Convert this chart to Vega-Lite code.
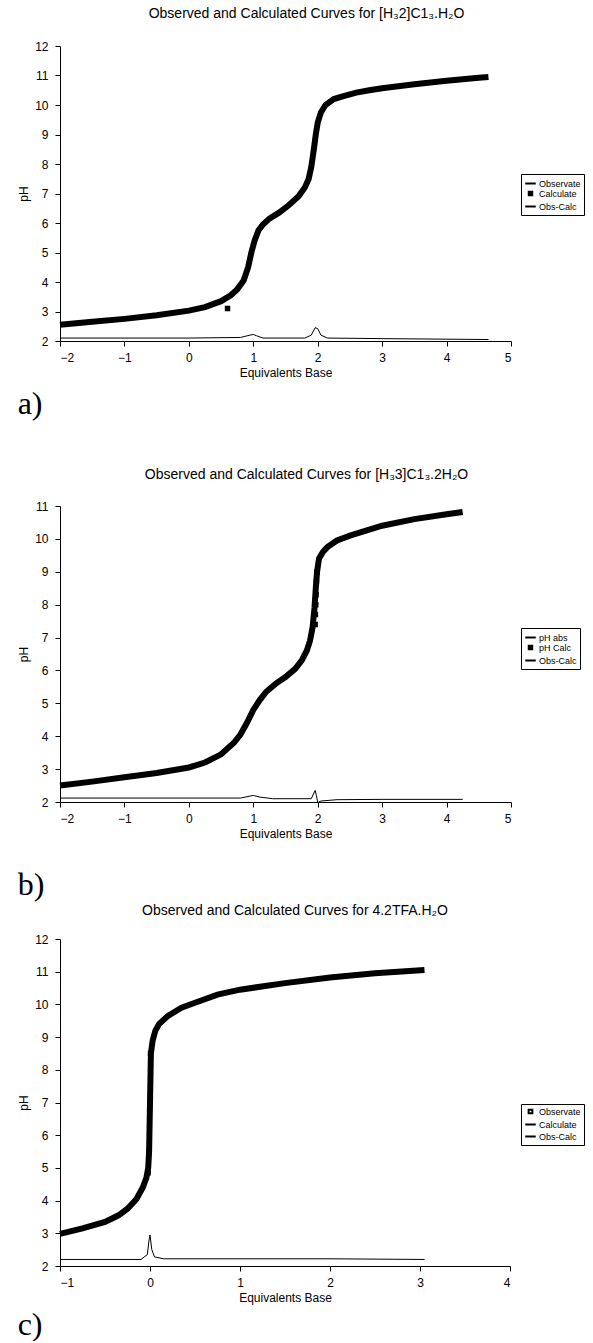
{
  "$schema": "https://vega.github.io/schema/vega-lite/v6.json",
  "padding": {"left": 17, "top": 7, "right": 0, "bottom": 0},
  "background": "white",
  "config": {
    "font": "Liberation Sans",
    "view": {"stroke": null},
    "axis": {"grid": false, "domainColor": "black", "tickColor": "black", "labelColor": "black", "titleColor": "black", "labelFontSize": 12, "titleFontSize": 12, "titleFontWeight": "normal", "tickSize": 5, "labelFont": "Liberation Sans", "titleFont": "Liberation Sans"},
    "title": {"font": "Liberation Sans", "fontSize": 14, "fontWeight": "normal", "color": "black"},
    "legend": {"labelFont": "Liberation Sans", "labelFontSize": 9, "labelColor": "black", "strokeColor": "black", "padding": 3, "rowPadding": -3, "symbolStrokeWidth": 2, "labelOffset": 2, "fillColor": "white"}
  },
  "datasets": {
    "a": [
      {"x": -2, "pH": 2.55, "series": "Observate"}, {"x": -1.5, "pH": 2.65, "series": "Observate"}, {"x": -1, "pH": 2.75, "series": "Observate"}, {"x": -0.5, "pH": 2.87, "series": "Observate"}, {"x": 0, "pH": 3.03, "series": "Observate"}, {"x": 0.25, "pH": 3.15, "series": "Observate"}, {"x": 0.5, "pH": 3.35, "series": "Observate"}, {"x": 0.65, "pH": 3.55, "series": "Observate"}, {"x": 0.75, "pH": 3.75, "series": "Observate"}, {"x": 0.85, "pH": 4.05, "series": "Observate"}, {"x": 0.92, "pH": 4.5, "series": "Observate"}, {"x": 0.97, "pH": 5.0, "series": "Observate"}, {"x": 1.02, "pH": 5.4, "series": "Observate"}, {"x": 1.08, "pH": 5.75, "series": "Observate"}, {"x": 1.15, "pH": 5.95, "series": "Observate"}, {"x": 1.25, "pH": 6.15, "series": "Observate"}, {"x": 1.4, "pH": 6.35, "series": "Observate"}, {"x": 1.55, "pH": 6.6, "series": "Observate"}, {"x": 1.7, "pH": 6.9, "series": "Observate"}, {"x": 1.8, "pH": 7.2, "series": "Observate"}, {"x": 1.86, "pH": 7.5, "series": "Observate"}, {"x": 1.9, "pH": 7.9, "series": "Observate"}, {"x": 1.94, "pH": 8.5, "series": "Observate"}, {"x": 1.97, "pH": 9.0, "series": "Observate"}, {"x": 2.0, "pH": 9.4, "series": "Observate"}, {"x": 2.05, "pH": 9.75, "series": "Observate"}, {"x": 2.12, "pH": 10.0, "series": "Observate"}, {"x": 2.25, "pH": 10.2, "series": "Observate"}, {"x": 2.4, "pH": 10.3, "series": "Observate"}, {"x": 2.6, "pH": 10.42, "series": "Observate"}, {"x": 2.8, "pH": 10.5, "series": "Observate"}, {"x": 3.0, "pH": 10.57, "series": "Observate"}, {"x": 3.5, "pH": 10.7, "series": "Observate"}, {"x": 4.0, "pH": 10.82, "series": "Observate"}, {"x": 4.5, "pH": 10.92, "series": "Observate"}, {"x": 4.65, "pH": 10.95, "series": "Observate"},
      {"x": 0.6, "pH": 3.1, "series": "Calculate"},
      {"x": -2, "pH": 2.1, "series": "Obs-Calc"}, {"x": 0, "pH": 2.1, "series": "Obs-Calc"}, {"x": 0.8, "pH": 2.12, "series": "Obs-Calc"}, {"x": 0.95, "pH": 2.2, "series": "Obs-Calc"}, {"x": 1.0, "pH": 2.22, "series": "Obs-Calc"}, {"x": 1.05, "pH": 2.18, "series": "Obs-Calc"}, {"x": 1.15, "pH": 2.1, "series": "Obs-Calc"}, {"x": 1.8, "pH": 2.1, "series": "Obs-Calc"}, {"x": 1.9, "pH": 2.2, "series": "Obs-Calc"}, {"x": 1.96, "pH": 2.45, "series": "Obs-Calc"}, {"x": 2.0, "pH": 2.42, "series": "Obs-Calc"}, {"x": 2.05, "pH": 2.2, "series": "Obs-Calc"}, {"x": 2.15, "pH": 2.1, "series": "Obs-Calc"}, {"x": 3.0, "pH": 2.08, "series": "Obs-Calc"}, {"x": 4.65, "pH": 2.05, "series": "Obs-Calc"}
    ],
    "b": [
      {"x": -2, "pH": 2.5, "series": "pH abs"}, {"x": -1.5, "pH": 2.62, "series": "pH abs"}, {"x": -1, "pH": 2.75, "series": "pH abs"}, {"x": -0.5, "pH": 2.88, "series": "pH abs"}, {"x": 0, "pH": 3.05, "series": "pH abs"}, {"x": 0.25, "pH": 3.2, "series": "pH abs"}, {"x": 0.5, "pH": 3.45, "series": "pH abs"}, {"x": 0.7, "pH": 3.8, "series": "pH abs"}, {"x": 0.8, "pH": 4.05, "series": "pH abs"}, {"x": 0.9, "pH": 4.4, "series": "pH abs"}, {"x": 1.0, "pH": 4.8, "series": "pH abs"}, {"x": 1.1, "pH": 5.1, "series": "pH abs"}, {"x": 1.2, "pH": 5.35, "series": "pH abs"}, {"x": 1.35, "pH": 5.6, "series": "pH abs"}, {"x": 1.5, "pH": 5.8, "series": "pH abs"}, {"x": 1.65, "pH": 6.05, "series": "pH abs"}, {"x": 1.75, "pH": 6.3, "series": "pH abs"}, {"x": 1.83, "pH": 6.6, "series": "pH abs"}, {"x": 1.88, "pH": 6.9, "series": "pH abs"}, {"x": 1.92, "pH": 7.3, "series": "pH abs"}, {"x": 1.95, "pH": 7.9, "series": "pH abs"}, {"x": 1.97, "pH": 8.5, "series": "pH abs"}, {"x": 1.99, "pH": 9.0, "series": "pH abs"}, {"x": 2.02, "pH": 9.4, "series": "pH abs"}, {"x": 2.08, "pH": 9.6, "series": "pH abs"}, {"x": 2.15, "pH": 9.75, "series": "pH abs"}, {"x": 2.3, "pH": 9.95, "series": "pH abs"}, {"x": 2.5, "pH": 10.1, "series": "pH abs"}, {"x": 2.75, "pH": 10.25, "series": "pH abs"}, {"x": 3.0, "pH": 10.4, "series": "pH abs"}, {"x": 3.5, "pH": 10.6, "series": "pH abs"}, {"x": 4.0, "pH": 10.75, "series": "pH abs"}, {"x": 4.25, "pH": 10.82, "series": "pH abs"},
      {"x": 1.96, "pH": 7.4, "series": "pH Calc"}, {"x": 1.965, "pH": 7.7, "series": "pH Calc"}, {"x": 1.97, "pH": 8.0, "series": "pH Calc"}, {"x": 1.975, "pH": 8.3, "series": "pH Calc"}, {"x": 1.98, "pH": 8.7, "series": "pH Calc"}, {"x": 1.99, "pH": 9.0, "series": "pH Calc"},
      {"x": -2, "pH": 2.12, "series": "Obs-Calc"}, {"x": 0.8, "pH": 2.12, "series": "Obs-Calc"}, {"x": 0.95, "pH": 2.18, "series": "Obs-Calc"}, {"x": 1.0, "pH": 2.2, "series": "Obs-Calc"}, {"x": 1.1, "pH": 2.15, "series": "Obs-Calc"}, {"x": 1.3, "pH": 2.1, "series": "Obs-Calc"}, {"x": 1.9, "pH": 2.1, "series": "Obs-Calc"}, {"x": 1.96, "pH": 2.35, "series": "Obs-Calc"}, {"x": 1.98, "pH": 2.2, "series": "Obs-Calc"}, {"x": 2.0, "pH": 1.98, "series": "Obs-Calc"}, {"x": 2.05, "pH": 2.03, "series": "Obs-Calc"}, {"x": 2.3, "pH": 2.07, "series": "Obs-Calc"}, {"x": 3.0, "pH": 2.08, "series": "Obs-Calc"}, {"x": 4.25, "pH": 2.08, "series": "Obs-Calc"}
    ],
    "c": [
      {"x": -1, "pH": 2.98, "series": "Calculate"}, {"x": -0.75, "pH": 3.15, "series": "Calculate"}, {"x": -0.5, "pH": 3.35, "series": "Calculate"}, {"x": -0.35, "pH": 3.55, "series": "Calculate"}, {"x": -0.25, "pH": 3.75, "series": "Calculate"}, {"x": -0.15, "pH": 4.05, "series": "Calculate"}, {"x": -0.08, "pH": 4.4, "series": "Calculate"}, {"x": -0.04, "pH": 4.7, "series": "Calculate"}, {"x": -0.02, "pH": 5.0, "series": "Calculate"}, {"x": -0.01, "pH": 5.5, "series": "Calculate"}, {"x": 0, "pH": 7.0, "series": "Calculate"}, {"x": 0.01, "pH": 8.5, "series": "Calculate"}, {"x": 0.03, "pH": 8.9, "series": "Calculate"}, {"x": 0.06, "pH": 9.2, "series": "Calculate"}, {"x": 0.1, "pH": 9.4, "series": "Calculate"}, {"x": 0.2, "pH": 9.65, "series": "Calculate"}, {"x": 0.35, "pH": 9.9, "series": "Calculate"}, {"x": 0.5, "pH": 10.05, "series": "Calculate"}, {"x": 0.75, "pH": 10.3, "series": "Calculate"}, {"x": 1.0, "pH": 10.45, "series": "Calculate"}, {"x": 1.5, "pH": 10.65, "series": "Calculate"}, {"x": 2.0, "pH": 10.82, "series": "Calculate"}, {"x": 2.5, "pH": 10.95, "series": "Calculate"}, {"x": 3.05, "pH": 11.05, "series": "Calculate"},
      {"x": -0.02, "pH": 4.85, "series": "Observate"}, {"x": -0.01, "pH": 5.5, "series": "Observate"}, {"x": 0, "pH": 7.0, "series": "Observate"}, {"x": 0.005, "pH": 8.5, "series": "Observate"},
      {"x": -1, "pH": 2.2, "series": "Obs-Calc"}, {"x": -0.1, "pH": 2.2, "series": "Obs-Calc"}, {"x": -0.03, "pH": 2.35, "series": "Obs-Calc"}, {"x": -0.01, "pH": 2.8, "series": "Obs-Calc"}, {"x": 0, "pH": 2.95, "series": "Obs-Calc"}, {"x": 0.02, "pH": 2.5, "series": "Obs-Calc"}, {"x": 0.05, "pH": 2.28, "series": "Obs-Calc"}, {"x": 0.15, "pH": 2.22, "series": "Obs-Calc"}, {"x": 1, "pH": 2.22, "series": "Obs-Calc"}, {"x": 2, "pH": 2.22, "series": "Obs-Calc"}, {"x": 3.05, "pH": 2.2, "series": "Obs-Calc"}
    ]
  },
  "concat": [
    {
      "concat": [
        {
          "vconcat": [
            {
              "title": {"text": "Observed and Calculated Curves for [H₃2]C1₃.H₂O", "offset": 19, "dx": 21},
              "width": 451, "height": 295,
              "data": {"name": "a"},
              "encoding": {
                "x": {"field": "x", "type": "quantitative", "scale": {"domain": [-2, 5], "nice": false}, "axis": {"values": [-2, -1, 0, 1, 2, 3, 4, 5], "title": "Equivalents Base", "labelPadding": 6, "titlePadding": 4}},
                "y": {"field": "pH", "type": "quantitative", "scale": {"domain": [2, 12], "nice": false, "zero": false}, "axis": {"values": [2, 3, 4, 5, 6, 7, 8, 9, 10, 11, 12], "title": "pH", "labelPadding": 7, "titlePadding": 4}}
              },
              "layer": [
                {"transform": [{"filter": "datum.series == 'Obs-Calc'"}], "mark": {"type": "line", "color": "black", "strokeWidth": 1}},
                {"transform": [{"filter": "datum.series == 'Observate'"}], "mark": {"type": "line", "color": "black", "strokeWidth": 6}},
                {"transform": [{"filter": "datum.series == 'Calculate'"}], "mark": {"type": "point", "filled": true, "fill": "black", "stroke": "black", "strokeWidth": 2, "opacity": 1},
                 "encoding": {
                   "shape": {"field": "series", "type": "nominal", "scale": {"domain": ["Observate", "Calculate", "Obs-Calc"], "range": ["stroke", "square", "stroke"]},
                     "legend": {"title": null, "orient": "none", "legendX": 461, "legendY": 128}},
                   "size": {"field": "series", "type": "nominal", "scale": {"type": "ordinal", "domain": ["Observate", "Calculate", "Obs-Calc"], "range": [110, 12, 110]},
                     "legend": {"title": null, "orient": "none", "legendX": 461, "legendY": 128}}
                 }}
              ]
            }
          ],
          "title": {"text": "a)", "orient": "bottom", "anchor": "start", "font": "Liberation Serif", "fontSize": 32, "offset": 11}
        },
        {
          "vconcat": [
            {
              "title": {"text": "Observed and Calculated Curves for [H₃3]C1₃.2H₂O", "offset": 18, "dx": 21},
              "width": 451, "height": 296,
              "data": {"name": "b"},
              "encoding": {
                "x": {"field": "x", "type": "quantitative", "scale": {"domain": [-2, 5], "nice": false}, "axis": {"values": [-2, -1, 0, 1, 2, 3, 4, 5], "title": "Equivalents Base", "labelPadding": 6, "titlePadding": 4}},
                "y": {"field": "pH", "type": "quantitative", "scale": {"domain": [2, 11], "nice": false, "zero": false}, "axis": {"values": [2, 3, 4, 5, 6, 7, 8, 9, 10, 11], "title": "pH", "labelPadding": 7, "titlePadding": 4}}
              },
              "layer": [
                {"transform": [{"filter": "datum.series == 'Obs-Calc'"}], "mark": {"type": "line", "color": "black", "strokeWidth": 1}},
                {"transform": [{"filter": "datum.series == 'pH abs'"}], "mark": {"type": "line", "color": "black", "strokeWidth": 6}},
                {"transform": [{"filter": "datum.series == 'pH Calc'"}], "mark": {"type": "point", "filled": true, "fill": "black", "stroke": "black", "strokeWidth": 2, "opacity": 1},
                 "encoding": {
                   "shape": {"field": "series", "type": "nominal", "scale": {"domain": ["pH abs", "pH Calc", "Obs-Calc"], "range": ["stroke", "square", "stroke"]},
                     "legend": {"title": null, "orient": "none", "legendX": 461, "legendY": 122}},
                   "size": {"field": "series", "type": "nominal", "scale": {"type": "ordinal", "domain": ["pH abs", "pH Calc", "Obs-Calc"], "range": [110, 12, 110]},
                     "legend": {"title": null, "orient": "none", "legendX": 461, "legendY": 122}}
                 }}
              ]
            }
          ],
          "title": {"text": "b)", "orient": "bottom", "anchor": "start", "font": "Liberation Serif", "fontSize": 32, "offset": 31}
        }
      ],
      "columns": 1,
      "spacing": 47,
      "align": "none",
      "resolve": {"scale": {"shape": "independent", "size": "independent"}, "legend": {"shape": "independent", "size": "independent"}}
    },
    {
      "vconcat": [
        {
          "title": {"text": "Observed and Calculated Curves for 4.2TFA.H₂O", "offset": 15, "dx": 10},
          "width": 450, "height": 327,
          "data": {"name": "c"},
          "encoding": {
            "x": {"field": "x", "type": "quantitative", "scale": {"domain": [-1, 4], "nice": false}, "axis": {"values": [-1, 0, 1, 2, 3, 4], "title": "Equivalents Base", "labelPadding": 6, "titlePadding": 4}},
            "y": {"field": "pH", "type": "quantitative", "scale": {"domain": [2, 12], "nice": false, "zero": false}, "axis": {"values": [2, 3, 4, 5, 6, 7, 8, 9, 10, 11, 12], "title": "pH", "labelPadding": 7, "titlePadding": 4}}
          },
          "layer": [
            {"transform": [{"filter": "datum.series == 'Obs-Calc'"}], "mark": {"type": "line", "color": "black", "strokeWidth": 1}},
            {"transform": [{"filter": "datum.series == 'Calculate'"}], "mark": {"type": "line", "color": "black", "strokeWidth": 6}},
            {"transform": [{"filter": "datum.series == 'Observate'"}], "mark": {"type": "point", "filled": false, "stroke": "black", "strokeWidth": 1.5, "opacity": 1},
             "encoding": {
               "shape": {"field": "series", "type": "nominal", "scale": {"domain": ["Observate", "Calculate", "Obs-Calc"], "range": ["square", "stroke", "stroke"]},
                 "legend": {"title": null, "orient": "none", "legendX": 461, "legendY": 165}},
               "size": {"field": "series", "type": "nominal", "scale": {"type": "ordinal", "domain": ["Observate", "Calculate", "Obs-Calc"], "range": [14, 110, 110]},
                 "legend": {"title": null, "orient": "none", "legendX": 461, "legendY": 165}}
             }}
          ]
        }
      ],
      "title": {"text": "c)", "orient": "bottom", "anchor": "start", "font": "Liberation Serif", "fontSize": 32, "offset": 7}
    }
  ],
  "columns": 1,
  "spacing": 3,
  "align": "none",
  "resolve": {"scale": {"shape": "independent", "size": "independent"}, "legend": {"shape": "independent", "size": "independent"}}
}
